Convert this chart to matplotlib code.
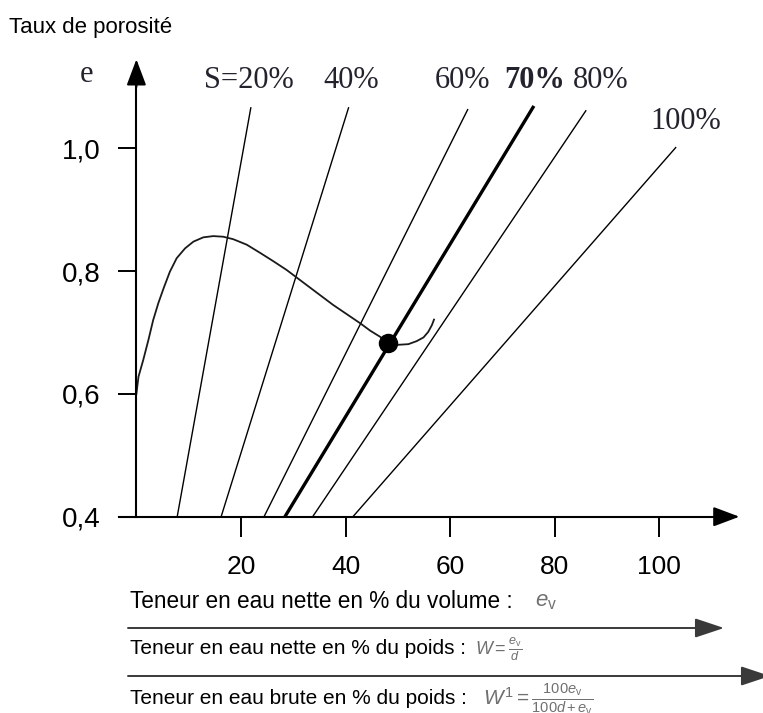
import matplotlib.pyplot as plt

plt.rcParams["font.family"] = ["Liberation Sans", "DejaVu Sans"]
plt.rcParams["mathtext.fontset"] = "custom"
plt.rcParams["mathtext.rm"] = "Liberation Sans"
plt.rcParams["mathtext.it"] = "Liberation Sans:italic"

# isosaturation lines: water content (% vol.) at e = 0,4 and at the upper end
sat_names = ["S=20%", "40%", "60%", "70%", "80%", "100%"]
sat_w_low = [7.8, 16.2, 24.4, 28.4, 33.7, 41.4]
sat_w_high = [21.9, 40.6, 63.4, 76.0, 86.0, 103.2]
sat_e_high = [1.067, 1.067, 1.064, 1.069, 1.062, 1.002]
sat_e_low = 0.4

# compaction curve e = f(water content)
curve_w = [0.0, 0.4, 1.3, 2.3, 3.2, 4.2, 5.2, 6.4, 7.7, 9.3, 10.9, 12.8,
           14.7, 16.6, 18.5, 21.1, 23.6, 26.2, 28.7, 32.6, 35.1, 37.6, 40.2,
           42.8, 44.7, 46.6, 48.2, 50.1, 52.0, 53.6, 54.9, 55.8, 56.5, 56.9]
curve_e = [0.600, 0.628, 0.655, 0.688, 0.720, 0.748, 0.772, 0.799, 0.821,
           0.837, 0.848, 0.855, 0.857, 0.856, 0.852, 0.843, 0.830, 0.816,
           0.802, 0.777, 0.761, 0.745, 0.730, 0.715, 0.703, 0.693, 0.682,
           0.680, 0.681, 0.686, 0.692, 0.701, 0.712, 0.721]

# optimum point on the S = 70% line
opt_w = 48.1
opt_e = 0.683

e_ticks = [0.4, 0.6, 0.8, 1.0]
e_ticklabels = ["0,4", "0,6", "0,8", "1,0"]
w_ticks = [20, 40, 60, 80, 100]
w_ticklabels = ["20", "40", "60", "80", "100"]

bottom_lines = [
    "Teneur en eau nette en % du volume :",
    "Teneur en eau nette en % du poids :",
    "Teneur en eau brute en % du poids :",
]
bottom_formulas = [
    r"$e_\mathrm{v}$",
    r"$W = \frac{e_\mathrm{v}}{d}$",
    r"$W^1 = \frac{100e_\mathrm{v}}{100d+e_\mathrm{v}}$",
]

W, H = 763, 713
X0, XS = 136.4, 5.23      # pixel of w = 0, pixels per % of water
Y0, YS = 332.5, 614.0     # pixel of e = 0.7, pixels per unit of e


def fig_px(x, y):
    # figure pixels measured from the top-left corner
    return (x, H - y)


fig = plt.figure(figsize=(W / 100, H / 100), dpi=100)
ax = fig.add_axes([0, 0, 1, 1])
ax.set_xlim(-X0 / XS, (W - X0) / XS)
ax.set_ylim(0.7 - (H - Y0) / YS, 0.7 + Y0 / YS)
ax.patch.set_alpha(0)

# axes drawn through the spines
for side in ("top", "right"):
    ax.spines[side].set_visible(False)
ax.spines["left"].set_position(("data", 0))
ax.spines["bottom"].set_position(("data", 0.4))
ax.spines["left"].set_bounds(0.4, 1.11)
ax.spines["bottom"].set_bounds(-3.3, 111.8)
for side in ("left", "bottom"):
    ax.spines[side].set_linewidth(1.5)

ax.set_yticks(e_ticks, e_ticklabels)
ax.set_xticks(w_ticks, w_ticklabels)
ax.tick_params(axis="y", direction="out", length=13, width=1.4, pad=13,
               labelsize=20)
ax.tick_params(axis="x", direction="out", length=14.5, width=1.4, pad=13,
               labelsize=19)

arrow_head = dict(arrowstyle="-|>,head_length=0.8,head_width=0.3",
                  color="black", lw=1.5, shrinkA=0, shrinkB=0,
                  mutation_scale=20)
ax.annotate("", xy=(0, 1.145), xytext=(0, 1.10), arrowprops=arrow_head)
ax.annotate("", xy=(115.3, 0.4), xytext=(111.0, 0.4), arrowprops=arrow_head)

# saturation lines
for name, w0, w1, e1 in zip(sat_names, sat_w_low, sat_w_high, sat_e_high):
    lw = 2.4 if name == "70%" else 1.0
    ax.plot([w0, w1], [sat_e_low, e1], color="black", lw=lw,
            solid_capstyle="butt")

sat_label_w = [21.5, 41.0, 62.4, 76.2, 88.8, 105.1]
sat_label_e = [1.098, 1.098, 1.098, 1.098, 1.098, 1.031]
for name, lw_, le in zip(sat_names, sat_label_w, sat_label_e):
    ax.text(lw_, le, name, ha="center", va="baseline", fontsize=22,
            family="Liberation Serif", color="#23232e",
            fontweight="bold" if name == "70%" else "normal")

# compaction curve and optimum
ax.plot(curve_w, curve_e, color="#1a1a1a", lw=1.3, solid_joinstyle="round")
ax.plot(opt_w, opt_e, "o", ms=13, color="black")

ax.text(-9.6, 1.108, "e", ha="center", va="baseline", fontsize=22,
        family="Liberation Serif", color="#23232e")
ax.annotate("Taux de porosité", xy=fig_px(9, 27), xycoords="figure pixels",
            ha="left", va="center", fontsize=16)

# water content scales under the chart, each formula right after its text
line_y = [601, 649, 699]
line_size = [16.3, 15, 15]
formula_size = [16, 13, 15]
formula_gap = [22, 9, 16]
renderer = fig.canvas.get_renderer()
for txt, fml, fy, ts, fs, gap in zip(bottom_lines, bottom_formulas, line_y,
                                     line_size, formula_size, formula_gap):
    t = ax.annotate(txt, xy=fig_px(130, fy), xycoords="figure pixels",
                    ha="left", va="center", fontsize=ts)
    x_end = t.get_window_extent(renderer).x1
    ax.annotate(fml, xy=(x_end + gap, H - fy), xycoords="figure pixels",
                ha="left", va="center", fontsize=fs, color="#707070")

scale_head = dict(arrowstyle="-|>,head_length=0.9,head_width=0.3",
                  color="#3a3a3a", lw=1.4, shrinkA=0, shrinkB=0,
                  mutation_scale=20)
ax.annotate("", xy=fig_px(724, 628), xytext=fig_px(128, 628),
            xycoords="figure pixels", textcoords="figure pixels",
            arrowprops=scale_head)
ax.annotate("", xy=fig_px(770, 676), xytext=fig_px(128, 676),
            xycoords="figure pixels", textcoords="figure pixels",
            arrowprops=scale_head)

fig.savefig("out.png", dpi=100, facecolor="white")
